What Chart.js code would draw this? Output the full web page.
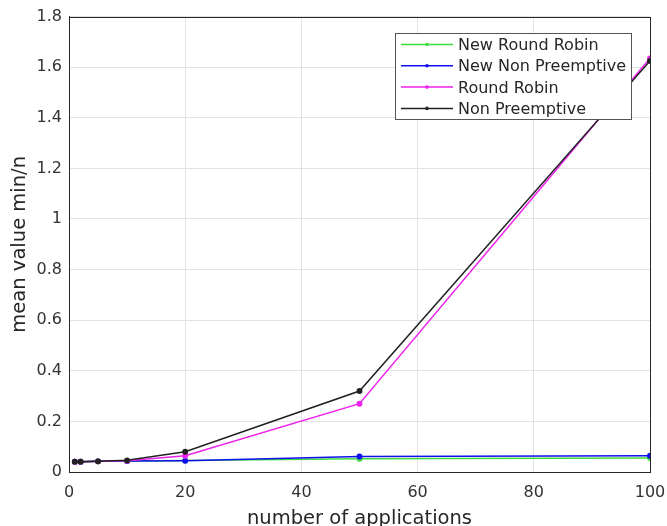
<!DOCTYPE html>
<html>
<head>
<meta charset="utf-8">
<script src="https://cdn.jsdelivr.net/npm/chart.js@4"></script>
<style>
  html, body { margin: 0; padding: 0; background: #fff; }
  #wrap { width: 667px; height: 526px; }
</style>
</head>
<body>
<div id="wrap"><canvas id="chart" width="667" height="526"></canvas></div>
<script>
  // Data
  const apps = [1, 2, 5, 10, 20, 50, 100];
  const newRoundRobin = [0.041, 0.041, 0.042, 0.043, 0.045, 0.052, 0.055];
  const newNonPreemptive = [0.041, 0.041, 0.042, 0.043, 0.044, 0.061, 0.064];
  const roundRobin = [0.041, 0.041, 0.042, 0.044, 0.064, 0.27, 1.635];
  const nonPreemptive = [0.041, 0.041, 0.042, 0.046, 0.08, 0.32, 1.625];
  const seriesNames = ['New Round Robin', 'New Non Preemptive', 'Round Robin', 'Non Preemptive'];
  const seriesColors = ['#3ddc3d', '#1010ee', '#ee22ee', '#222222'];

  const allSeries = [newRoundRobin, newNonPreemptive, roundRobin, nonPreemptive];

  function toPoints(values) {
    return apps.map((x, i) => ({ x: x, y: values[i] }));
  }

  const datasets = allSeries.map((vals, i) => ({
    label: seriesNames[i],
    data: toPoints(vals),
    borderColor: seriesColors[i],
    backgroundColor: seriesColors[i],
    borderWidth: 1.5,
    pointRadius: 2.2,
    pointHoverRadius: 2.2,
    tension: 0,
    order: allSeries.length - i // later series drawn on top
  }));

  // box around plot + legend inside the axes (matlab style)
  const boxAndLegend = {
    id: 'boxAndLegend',
    afterDraw(chart) {
      const ctx = chart.ctx;
      const a = chart.chartArea;
      ctx.save();
      ctx.strokeStyle = '#262626';
      ctx.lineWidth = 1;
      ctx.strokeRect(Math.round(a.left) + 0.5, Math.round(a.top) + 0.5,
        Math.round(a.right - a.left), Math.round(a.bottom - a.top));

      // legend
      const lx = 395, ly = 33, lw = 236, lh = 86;
      ctx.fillStyle = '#fff';
      ctx.fillRect(lx, ly, lw, lh);
      ctx.strokeStyle = '#555';
      ctx.strokeRect(lx + 0.5, ly + 0.5, lw, lh);
      ctx.font = '16px "DejaVu Sans"';
      ctx.textBaseline = 'middle';
      chart.data.datasets.forEach((ds, i) => {
        const y = ly + 11.5 + i * 21.3;
        ctx.strokeStyle = ds.borderColor;
        ctx.lineWidth = 1.5;
        ctx.beginPath();
        ctx.moveTo(lx + 6, y);
        ctx.lineTo(lx + 58, y);
        ctx.stroke();
        ctx.fillStyle = ds.borderColor;
        ctx.beginPath();
        ctx.arc(lx + 32, y, 1.8, 0, Math.PI * 2);
        ctx.fill();
        ctx.fillStyle = '#262626';
        ctx.fillText(ds.label, lx + 63, y + 1.5);
      });
      ctx.restore();
    }
  };

  const ctx = document.getElementById('chart').getContext('2d');
  new Chart(ctx, {
    type: 'line',
    data: { datasets: datasets },
    options: {
      responsive: false,
      animation: false,
      layout: { padding: { top: 16, right: 17, left: 0, bottom: 0 } },
      plugins: {
        legend: { display: false },
        tooltip: { enabled: false }
      },
      scales: {
        x: {
          type: 'linear',
          min: 0,
          max: 100,
          afterFit(scale) {
            scale.height = 54;
            scale.paddingRight = 0;
            scale.paddingLeft = 0;
          },
          ticks: {
            stepSize: 20,
            color: '#333',
            font: { family: 'DejaVu Sans', size: 16 },
            padding: 11,
            maxRotation: 0
          },
          grid: { color: '#e2e2e2', drawTicks: false },
          border: { color: '#262626' },
          title: {
            display: true,
            text: 'number of applications',
            color: '#262626',
            font: { family: 'DejaVu Sans', size: 19.5, lineHeight: 0.7 },
            padding: { top: 0, bottom: 0 }
          }
        },
        y: {
          min: 0,
          max: 1.8,
          afterFit(scale) { scale.width = 69; },
          ticks: {
            stepSize: 0.2,
            color: '#333',
            font: { family: 'DejaVu Sans', size: 16 },
            padding: 7,
            callback: v => String(Math.round(v * 10) / 10)
          },
          grid: { color: '#e2e2e2', drawTicks: false },
          border: { color: '#262626' },
          title: {
            display: true,
            text: 'mean value min/n',
            color: '#262626',
            font: { family: 'DejaVu Sans', size: 19.5, lineHeight: 1.2 },
            padding: { top: 8, bottom: 0 }
          }
        }
      }
    },
    plugins: [boxAndLegend]
  });
</script>
</body>
</html>
